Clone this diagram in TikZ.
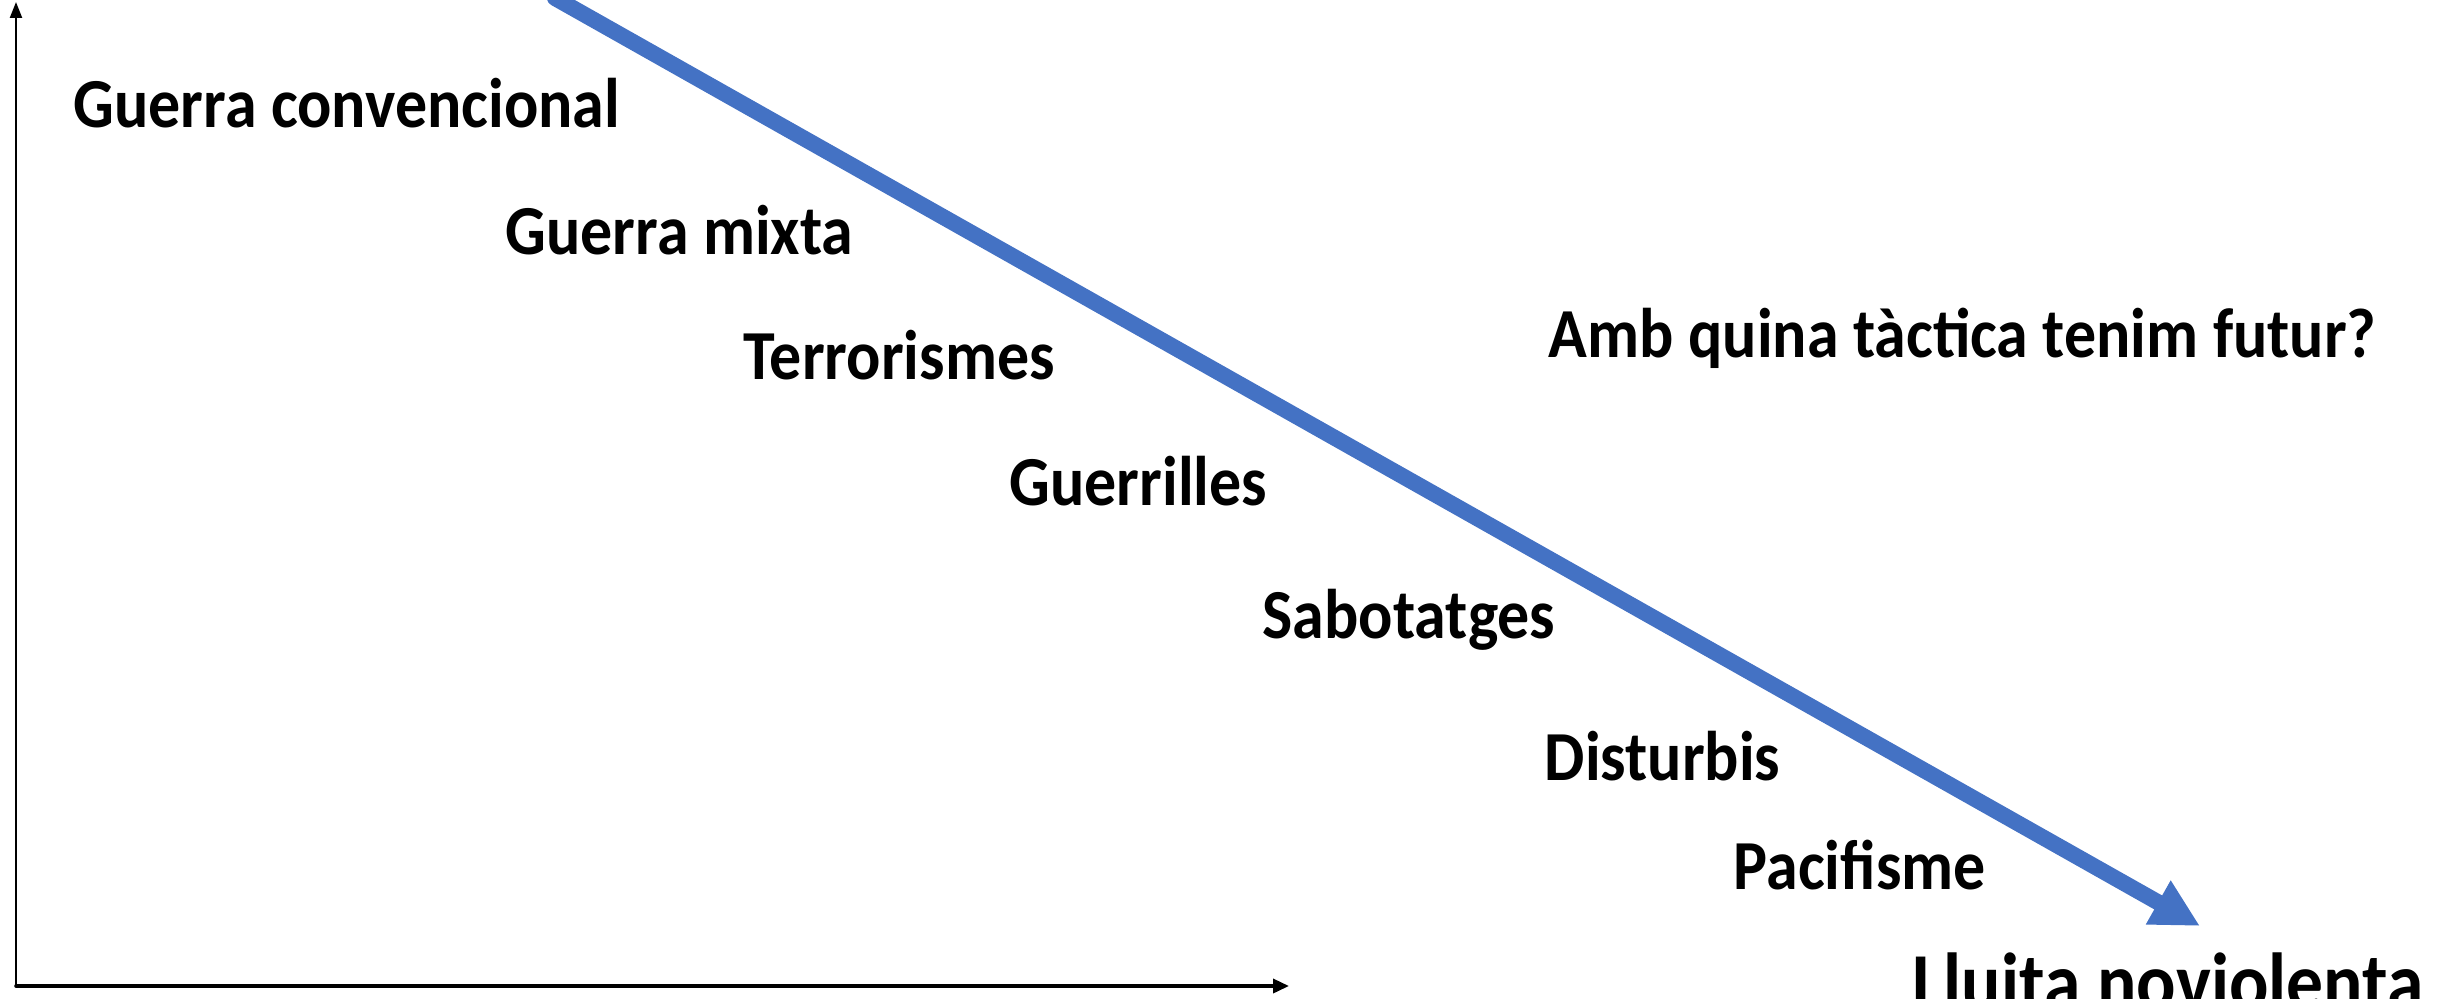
\documentclass[tikz,border=0pt]{standalone}
\usepackage{fontspec}
\setmainfont{Carlito}[FakeStretch=0.91]
\usetikzlibrary{arrows.meta}
\usepackage{tkz-euclide}
\definecolor{ArrowClr}{rgb}{0.267,0.447,0.769}

\begin{document}
\begin{tikzpicture}[lbl/.style={font=\bfseries\fontsize{20}{24}\selectfont,inner sep=0pt,anchor=base west}]
\useasboundingbox (0,0) rectangle (24.46,9.98);
\clip (0,0) rectangle (24.46,9.98);
\tkzSetUpLine[line width=0.6pt,color=black]

\tkzDefPoints{0.16/0.12/O,0.16/9.96/Y,12.89/0.12/X,5.55/10.00/S,22.00/0.72/T}

% axes
\tkzDrawSegment[-{Triangle[length=0.16cm,width=0.12cm]}](O,Y)
\tkzDrawSegment[line width=1pt,-{Triangle[length=0.16cm,width=0.14cm]}](O,X)

% big arrow
\tkzDrawSegment[color=ArrowClr,line width=0.16cm,-{Triangle[length=0.48cm,width=0.47cm]}](S,T)

\node[lbl] (conv) at (0.73,8.70) {Guerra convencional};
\node[lbl] (mixta) at (5.05,7.44) {Guerra mixta};
\node[lbl] (terr) at (7.43,6.19) {Terrorismes};
\node[lbl] (guer) at (10.09,4.93) {Guerrilles};
\node[lbl] (sabo) at (12.62,3.60) {Sabotatges};
\node[lbl] (dist) at (15.44,2.18) {Disturbis};
\node[lbl] (paci) at (17.33,1.09) {Pacifisme};
\node[lbl] (futur) at (15.48,6.41) {Amb quina tàctica tenim futur?};
\node[lbl,font=\bfseries\fontsize{23}{28}\selectfont] (noviol) at (19.12,-0.11) {Lluita noviolenta};

\end{tikzpicture}
\end{document}
